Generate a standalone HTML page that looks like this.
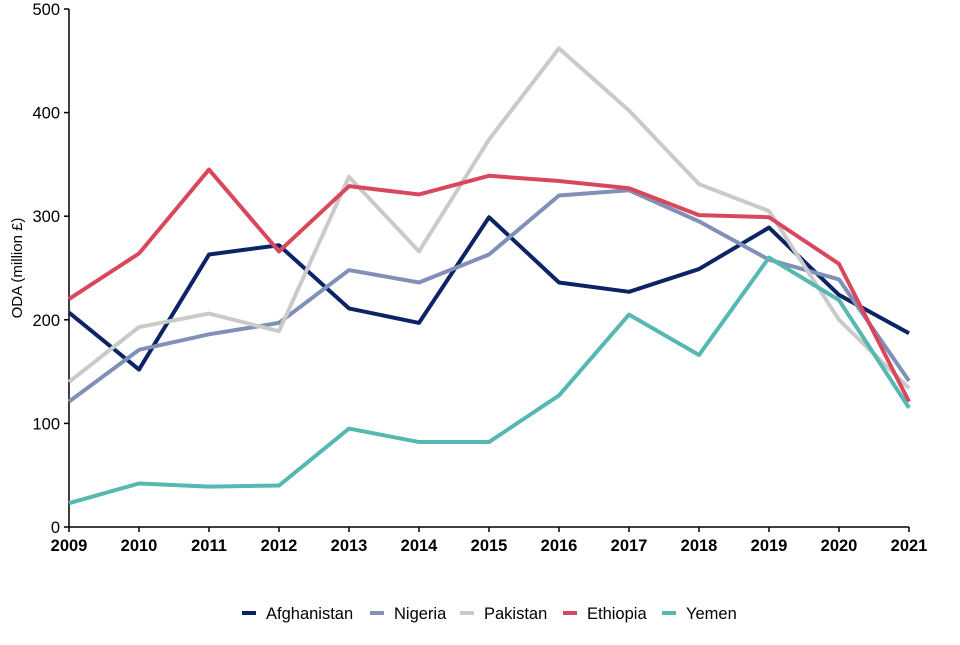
<!DOCTYPE html>
<html><head><meta charset="utf-8"><style>
body{margin:0;background:#fff;font-family:"Liberation Sans",Arial,sans-serif}
svg text{font-family:"Liberation Sans",Arial,sans-serif}
</style></head><body>
<svg id="chart" width="960" height="640" xmlns="http://www.w3.org/2000/svg"></svg>
<script>
const years=[2009,2010,2011,2012,2013,2014,2015,2016,2017,2018,2019,2020,2021];
const afghanistan=[207,152,263,272,211,197,299,236,227,249,289,224,187];
const nigeria=[121,171,186,197,248,236,263,320,325,295,258,239,141];
const pakistan=[140,193,206,189,338,266,374,462,402,331,305,200,134];
const ethiopia=[220,264,345,266,329,321,339,334,327,301,299,254,121];
const yemen=[23,42,39,40,95,82,82,127,205,166,260,219,115];
const yTicks=[0,100,200,300,400,500];
const seriesNames=["Afghanistan","Nigeria","Pakistan","Ethiopia","Yemen"];
const seriesData=[afghanistan,nigeria,pakistan,ethiopia,yemen];
const colors=["#0c2466","#8190b6","#cacaca","#d9475d","#56b8b0"];
const NS="http://www.w3.org/2000/svg";
const svg=document.getElementById('chart');
const x0=69,x1=909,y0=527,y1=9;
const xS=y=>x0+(y-years[0])/(years[years.length-1]-years[0])*(x1-x0);
const yS=v=>y0-v/500*(y0-y1);
function mk(t,a,p){const e=document.createElementNS(NS,t);for(const k in a)e.setAttribute(k,a[k]);(p||svg).appendChild(e);return e;}
let ax=mk('line',{x1:x0,y1:y1,x2:x0,y2:y0,stroke:'#000','stroke-width':1.5});


let bx=mk('line',{x1:x0,y1:y0,x2:x1,y2:y0,stroke:'#000','stroke-width':1.5});


yTicks.forEach(v=>{
 mk('line',{x1:x0-5,y1:yS(v),x2:x0,y2:yS(v),stroke:'#000','stroke-width':1.5});
 const t=mk('text',{x:x0-9,y:yS(v)+6,'text-anchor':'end','font-size':16.5,fill:'#000'});
 t.textContent=v;
 
 
});
years.forEach(y=>{
 mk('line',{x1:xS(y),y1:y0,x2:xS(y),y2:y0+5,stroke:'#000','stroke-width':1.5});
 const t=mk('text',{x:xS(y),y:y0+24,'text-anchor':'middle','font-size':16.5,'font-weight':'bold',fill:'#000'});
 t.textContent=y;
 
 
});
const yt=mk('text',{x:0,y:0,transform:'translate(22,268) rotate(-90)','text-anchor':'middle','font-size':15,fill:'#000'});
yt.textContent='ODA (million £)';


seriesData.forEach((d,i)=>{
 const p=mk('polyline',{points:d.map((v,j)=>xS(years[j])+','+yS(v)).join(' '),fill:'none',stroke:colors[i],'stroke-width':4,'stroke-linejoin':'round'});
 
 
});
const lx=[242,370,460,563,662];
seriesNames.forEach((n,i)=>{
 const g=mk('g',{});
 
 
 mk('line',{x1:lx[i],y1:613,x2:lx[i]+14,y2:613,stroke:colors[i],'stroke-width':4},g);
 const t=mk('text',{x:lx[i]+24,y:619,'font-size':16.5,fill:'#000'},g);
 t.textContent=n;
});
</script>
</body></html>
